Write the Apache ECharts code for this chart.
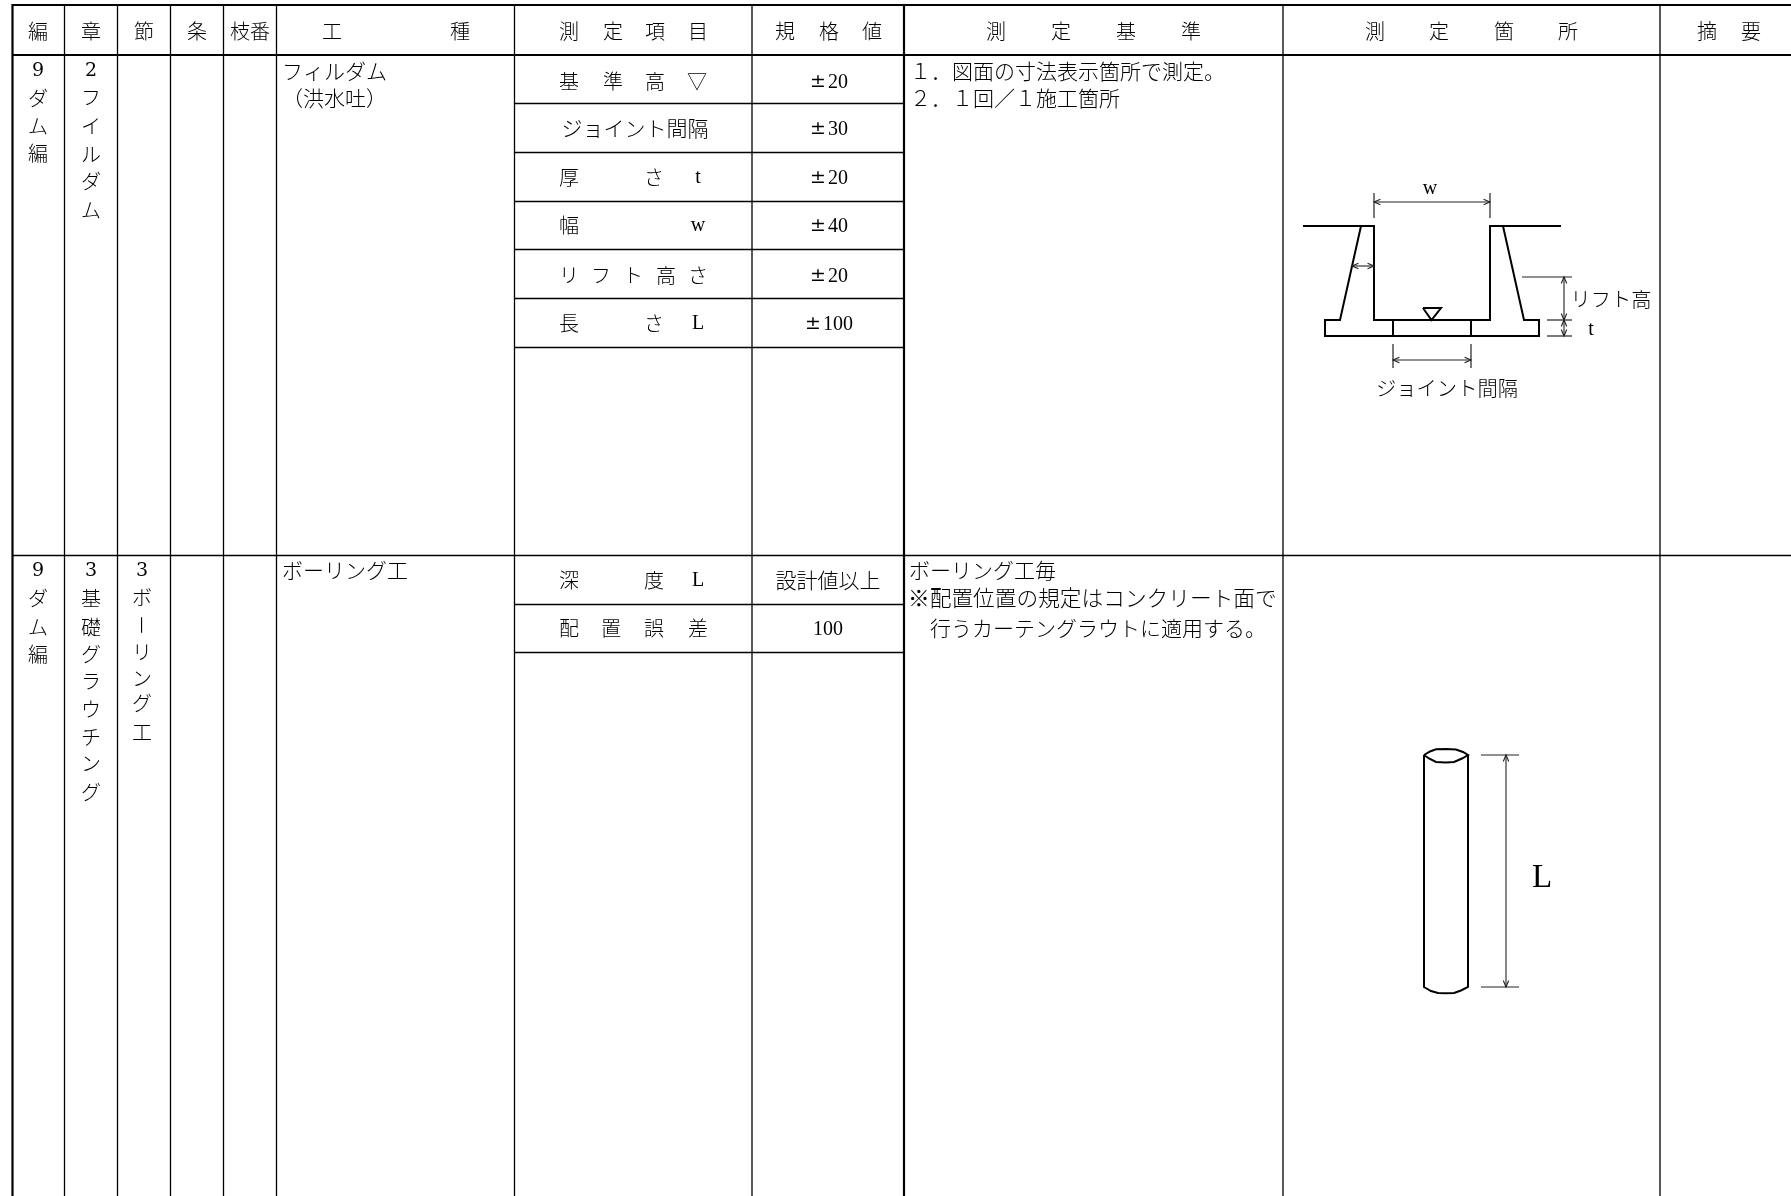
<!DOCTYPE html>
<html>
<head>
<meta charset="utf-8">
<title>測定基準表</title>
<style>
html,body{margin:0;padding:0;background:#fff;}
#main{width:1791px;height:1196px;}
</style>
<script src="https://cdn.jsdelivr.net/npm/echarts@6/dist/echarts.min.js"></script>
</head>
<body>
<div id="main"></div>
<script>
// 表の罫線位置 (axis units = px of the sheet)
var colLines = [64.5, 117.5, 170.5, 223.5, 276.5, 514.5, 752, 1283, 1660];
var boldColLines = [12.5, 904];
var boldRowLines = [5, 55];
var sectionLine = 555.5;
var itemRowLines = [103.5, 152.5, 201.5, 249.5, 298.5, 347.5, 604.5, 652.5];

// 見出し
var headerY = 31;
var headerCells = [['編',38],['章',91],['節',144],['条',197],['枝番',250],['工',332],['種',460],
  ['測',569],['定',613],['項',655],['目',698],['規',785],['格',829],['値',872],
  ['測',996],['定',1061],['基',1126],['準',1191],['測',1375],['定',1439],['箇',1504],['所',1568],
  ['摘',1707],['要',1751]];

// 縦書きの列: [x, y, 文字]
var verticalCells = [
  [38,98,'ダ'],[38,126,'ム'],[38,153,'編'],
  [91,97,'フ'],[91,126,'イ'],[91,154,'ル'],[91,181,'ダ'],[91,210,'ム'],
  [38,598,'ダ'],[38,627,'ム'],[38,654,'編'],
  [91,598,'基'],[91,627,'礎'],[91,654,'グ'],[91,681,'ラ'],[91,709,'ウ'],[91,737,'チ'],[91,763,'ン'],[91,792,'グ'],
  [142,597,'ボ'],[142,652,'リ'],[142,678,'ン'],[142,703,'グ'],[142,732,'工']
];
var verticalBars = [[142,625,'ー']];
var verticalNumbers = [[38,71,'9'],[91,71,'2'],[38,571,'9'],[91,571,'3'],[142,571,'3']];

// 工種・測定基準 (左寄せ): [x, y, text]
var leftTexts = [
  [282,71,'フィルダム'],[282,98,'（洪水吐）'],[282,570,'ボーリング工'],
  [910,71,'１．図面の寸法表示箇所で測定。'],[910,98,'２．１回／１施工箇所'],
  [909,570,'ボーリング工毎'],[930,628,'行うカーテングラウトに適用する。']
];
var noteLine = [[908,598,'※配置位置の規定はコンクリート面で']];

// 測定項目
var itemCells = [
  [569,81,'基'],[613,81,'準'],[655,81,'高'],[697,81,'▽'],
  [569,177,'厚'],[654,177,'さ'],
  [569,225,'幅'],
  [569,275,'リ'],[601,275,'フ'],[633,275,'ト'],[666,275,'高'],[698,275,'さ'],
  [569,323,'長'],[654,323,'さ'],
  [569,580,'深'],[654,580,'度'],
  [569,628,'配'],[611,628,'置'],[654,628,'誤'],[698,628,'差']
];
var wideCells = [[635,128,'ジョイント間隔'],[828,580,'設計値以上']];
var latinCells = [
  [698,178,'t'],[698,226,'w'],[698,324,'L'],[698,581,'L'],
  [829,82.5,'±20'],[829,129.5,'±30'],[829,178.5,'±20'],[829,226.5,'±40'],[829,276.5,'±20'],[829,324.5,'±100'],[828,629.5,'100'],
  [1430,189,'w'],[1591,330,'t']
];
var sketchTexts = [[1611,299,'リフト高'],[1447,388,'ジョイント間隔']];
var bigLetter = [[1542,878,'L']];

// フィルダム断面
var sketchBold = [
  [[1303,226],[1374,226],[1374,320],[1490,320],[1490,226],[1561,226]],
  [[1361,226],[1340,320],[1325,320],[1325,336],[1539,336],[1539,320],[1524,320],[1503,226]],
  [[1393,320],[1393,336]],[[1471,320],[1471,336]],
  [[1423,308],[1441,308],[1431.5,320],[1423,308]],
  // ボーリング孔
  [[1424,755],[1430,751.5],[1436,749.3],[1446,749],[1456,749.5],[1463,752],[1468,755],[1462,758.5],[1454,762],[1446,762.5],[1436,762],[1429,758.5],[1424,755]],
  [[1424,755],[1424,987],[1431,991],[1438,993],[1446,993.3],[1454,993],[1461,990.5],[1468,987],[1468,755]]
];
var sketchThin = [
  [[1374,193],[1374,218]],[[1490,193],[1490,218]],
  [[1522,277],[1572,277]],[[1547,320],[1572,320]],[[1547,336],[1572,336]],
  [[1393,344],[1393,368]],[[1471,344],[1471,368]],
  [[1481,755],[1519,755]],[[1481,987],[1519,987]]
];
// 寸法線 (両矢印)
var dimLines = [
  [1374,202,1490,202],[1352,266,1374,266],[1564,277,1564,320],[1564,320,1564,336],
  [1393,360,1471,360],[1506,755,1506,987]
];

var ink = '#000';
var grey = '#222';
var cjkFont = '"Noto Sans CJK JP","Noto Sans CJK SC",sans-serif';
var serifFont = '"Liberation Serif","DejaVu Serif",serif';
var wideSerifFont = '"DejaVu Serif","Liberation Serif",serif';

function polylineSeries(paths, width, color) {
  return {
    type: 'custom', silent: true, clip: false,
    data: paths.map(function(p, i) { return [i]; }),
    renderItem: function(params, api) {
      var pts = paths[api.value(0)].map(function(p) { return api.coord(p); });
      return { type: 'polyline', shape: { points: pts },
        style: { stroke: color, lineWidth: width, fill: null, lineJoin: 'miter' } };
    }
  };
}

function textSeries(items, size, family, align, weight, rotation) {
  return {
    type: 'custom', silent: true, clip: false,
    data: items.map(function(p, i) { return [i]; }),
    renderItem: function(params, api) {
      var it = items[api.value(0)];
      var c = api.coord([it[0], it[1]]);
      // ± は全角幅で出す
      var txt = it[2].replace('±', '{pm|±}');
      return { type: 'text', x: c[0], y: c[1], rotation: rotation || 0,
        style: { text: txt, fontSize: size, fontFamily: family, fontWeight: weight || 'normal',
          fill: ink, align: align, verticalAlign: 'middle',
          rich: { pm: { fontFamily: wideSerifFont, fontSize: 19, fill: ink, padding: [0, 2, 0, 0] } } } };
    }
  };
}

function dimSeries(items) {
  return {
    type: 'custom', silent: true, clip: false,
    data: items.map(function(p, i) { return [i]; }),
    renderItem: function(params, api) {
      var d = items[api.value(0)];
      var a = api.coord([d[0], d[1]]), b = api.coord([d[2], d[3]]);
      var ang = Math.atan2(b[1] - a[1], b[0] - a[0]);
      // V字の矢じり
      function head(p, dir) {
        var out = [];
        [0.4, -0.4].forEach(function(s) {
          out.push([p[0] + Math.cos(ang + dir + s) * 7, p[1] + Math.sin(ang + dir + s) * 7]);
        });
        return [out[0], p, out[1]];
      }
      var st = { stroke: grey, lineWidth: 1.1, fill: null };
      return { type: 'group', children: [
        { type: 'polyline', shape: { points: [a, b] }, style: st },
        { type: 'polyline', shape: { points: head(a, 0) }, style: st },
        { type: 'polyline', shape: { points: head(b, Math.PI) }, style: st }
      ] };
    }
  };
}

var segs = [];
colLines.forEach(function(x) { segs.push([[x, 5], [x, 1196]]); });
segs.push([[12.5, sectionLine], [1791, sectionLine]]);
itemRowLines.forEach(function(y) { segs.push([[514.5, y], [904, y]]); });
var boldSegs = [];
boldColLines.forEach(function(x) { boldSegs.push([[x, 4], [x, 1196]]); });
boldRowLines.forEach(function(y) { boldSegs.push([[12, y], [1791, y]]); });

var headerItems = headerCells.map(function(h) { return [h[1], headerY, h[0]]; });

var option = {
  backgroundColor: '#fff',
  animation: false,
  grid: { left: 0, right: 0, top: 0, bottom: 0 },
  xAxis: { type: 'value', min: 0, max: 1791, show: false },
  yAxis: { type: 'value', min: 0, max: 1196, inverse: true, show: false },
  series: [
    polylineSeries(segs, 1.3, ink),
    polylineSeries(boldSegs, 2.2, '#000'),
    polylineSeries(sketchBold, 2, ink),
    polylineSeries(sketchThin, 1.2, grey),
    dimSeries(dimLines),
    textSeries(headerItems, 20, cjkFont, 'center', 300),
    textSeries(verticalCells, 20, cjkFont, 'center', 300),
    textSeries(verticalBars, 20, cjkFont, 'center', 300, Math.PI / 2),
    textSeries(verticalNumbers, 19, wideSerifFont, 'center'),
    textSeries(leftTexts, 21, cjkFont, 'left', 300),
    textSeries(noteLine, 21.7, cjkFont, 'left', 300),
    textSeries(itemCells, 20, cjkFont, 'center', 300),
    textSeries(wideCells, 21, cjkFont, 'center', 300),
    textSeries(latinCells, 20, serifFont, 'center'),
    textSeries(sketchTexts, 20.3, cjkFont, 'center', 300),
    textSeries(bigLetter, 33, serifFont, 'center')
  ]
};

var myChart = echarts.init(document.getElementById('main'));
myChart.setOption(option);
</script>
</body>
</html>
